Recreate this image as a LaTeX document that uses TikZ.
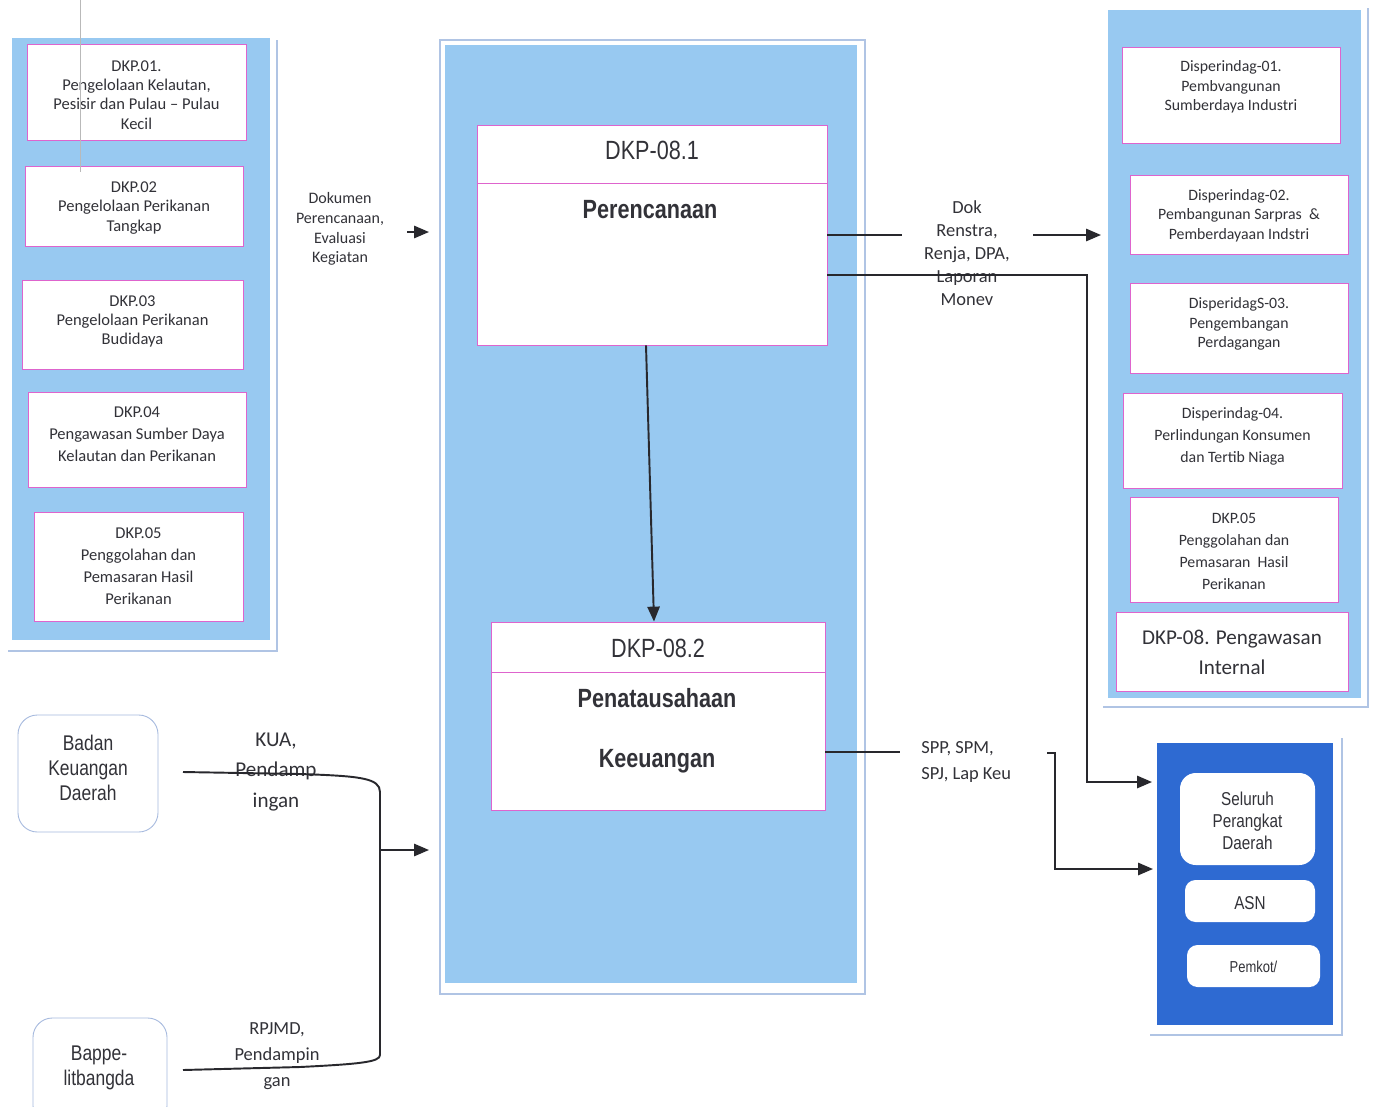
\documentclass[tikz,border=0pt]{standalone}
\usepackage{fontspec}
\setmainfont{Carlito}
\newfontfamily\narrowsans[FakeStretch=0.82]{Liberation Sans}
\usetikzlibrary{arrows.meta,fit,calc}

\definecolor{panelblue}{RGB}{152,201,241}
\definecolor{panelrim}{RGB}{176,196,228}
\definecolor{boxrim}{RGB}{222,100,205}
\definecolor{deepblue}{RGB}{46,106,210}
\definecolor{ink}{RGB}{40,40,45}
\definecolor{textgray}{RGB}{50,50,56}
\definecolor{softrim}{RGB}{165,185,222}

\tikzset{
  panel/.style={fill=panelblue, draw=none, inner sep=0pt},
  rim/.style={draw=panelrim, line width=0.7pt},
  unitbox/.style={draw=boxrim, line width=0.5pt, fill=white, inner sep=0pt},
  divider/.style={draw=boxrim, line width=0.5pt},
  lbl/.style={align=center, text=textgray, inner sep=0pt},
  smalltxt/.style={lbl, font=\fontsize{9.4}{11}\selectfont},
  looser/.style={lbl, font=\fontsize{9.4}{12.5}\selectfont},
  righttxt/.style={lbl, font=\fontsize{9}{11.2}\selectfont},
  rightloose/.style={lbl, font=\fontsize{9}{12.6}\selectfont},
  hdr/.style={lbl, font=\narrowsans\fontsize{15}{18}\selectfont},
  hdrb/.style={lbl, font=\narrowsans\bfseries\fontsize{15}{18}\selectfont},
  roundbox/.style={draw=softrim, line width=0.5pt, fill=white, rounded corners=11pt, inner sep=0pt},
  roundtxt/.style={lbl, font=\narrowsans\fontsize{12.1}{14.2}\selectfont},
  whitebox/.style={draw=none, fill=white, inner sep=0pt},
  whitetxt/.style={lbl, font=\narrowsans\fontsize{10.6}{12.5}\selectfont},
  conn/.style={draw=ink, line width=1.1pt},
  flow/.style={conn, -{Triangle[length=8.5pt,width=7pt]}},
}

\begin{document}
\begin{tikzpicture}[x=0.02cm,y=-0.02cm]
\clip (0,0) rectangle (1373,1106);
\fill[white] (0,0) rectangle (1373,1106);

% ---------- left column: DKP units ----------
\draw[rim] (277,40) -- (277,651) -- (8,651);
\node[panel, fit={(12,38) (270,640)}] (lp) {};
\node[unitbox, fit={(27,44) (246,140)}] (d1) {};
\node[unitbox, fit={(25,166) (243,246)}] (d2) {};
\node[unitbox, fit={(22,280) (243,369)}] (d3) {};
\node[unitbox, fit={(28,392) (246,487)}] (d4) {};
\node[unitbox, fit={(34,512) (243,621)}] (d5) {};
\node[smalltxt] (d1t) at ($(d1.center)+(0,3)$)
  {DKP.01.\\Pengelolaan Kelautan,\\Pesisir dan Pulau -- Pulau\\Kecil};
\node[smalltxt] (d2t) at ($(d2.center)+(0,2)$)
  {DKP.02\\Pengelolaan Perikanan\\Tangkap};
\node[smalltxt] (d3t) at ($(d3.center)+(0,-3)$)
  {DKP.03\\Pengelolaan Perikanan\\Budidaya};
\node[looser] (d4t) at ($(d4.center)+(0,-5)$)
  {DKP.04\\Pengawasan Sumber Daya\\Kelautan dan Perikanan};
\node[looser] (d5t) at ($(d5.center)+(0,0)$)
  {DKP.05\\Penggolahan dan\\Pemasaran Hasil\\Perikanan};

% ---------- centre column: DKP-08 ----------
\draw[rim] (440,40) rectangle (865,994);
\node[panel, fit={(445,45) (857,983)}] (core) {};

\node[unitbox, fit={(477,125) (827,345)}] (p1) {};
\draw[divider] (p1.west |- 0,183) -- (p1.east |- 0,183);
\node[hdr] (p1h) at (652,150) {DKP-08.1};
\node[hdrb] (p1t) at (650,210) {Perencanaan};

\node[unitbox, fit={(491,622) (825,810)}] (p2) {};
\draw[divider] (p2.west |- 0,672) -- (p2.east |- 0,672);
\node[hdr] (p2h) at (658,648) {DKP-08.2};
\node[hdrb] (p2t) at (657,698) {Penatausahaan};
\node[hdrb] (p2u) at (657,761) {Keeuangan};

\draw[flow] ($(p1.south)+(-6,0)$) -- ($(p2.north)+(-4,0)$);

% ---------- right column: Disperindag units ----------
\draw[rim] (1368,8) -- (1368,707) -- (1103,707);
\node[panel, fit={(1108,10) (1361,698)}] (rp) {};
\node[unitbox, fit={(1122,47) (1340,143)}] (r1) {};
\node[unitbox, fit={(1130,175) (1348,254)}] (r2) {};
\node[unitbox, fit={(1130,283) (1348,373)}] (r3) {};
\node[unitbox, fit={(1123,393) (1342,488)}] (r4) {};
\node[unitbox, fit={(1130,497) (1338,602)}] (r5) {};
\node[unitbox, fit={(1116,612) (1348,691)}] (r6) {};
\node[righttxt] (r1t) at ($(r1.center)+(0,-8)$)
  {Disperindag-01.\\Pembvangunan\\Sumberdaya Industri};
\node[righttxt] (r2t) at ($(r2.center)+(0,1)$)
  {Disperindag-02.\\Pembangunan Sarpras~~\&\\Pemberdayaan Indstri};
\node[righttxt] (r3t) at ($(r3.center)+(0,-4)$)
  {DisperidagS-03.\\Pengembangan\\Perdagangan};
\node[rightloose] (r4t) at ($(r4.center)+(0,-4)$)
  {Disperindag-04.\\Perlindungan Konsumen\\dan Tertib Niaga};
\node[rightloose] (r5t) at ($(r5.center)+(0,2)$)
  {DKP.05\\Penggolahan dan\\Pemasaran~ Hasil\\Perikanan};
\node[lbl, font=\fontsize{12}{17}\selectfont] (r6t) at ($(r6.center)+(0,1)$)
  {DKP-08. Pengawasan\\Internal};

% ---------- recipients ----------
\draw[rim] (1342,738) -- (1342,1035) -- (1150,1035);
\node[fill=deepblue, inner sep=0pt, fit={(1157,743) (1333,1025)}] (dk) {};
\node[whitebox, rounded corners=9pt, fit={(1180,773) (1315,865)}] (s1) {};
\node[whitebox, rounded corners=6pt, fit={(1185,880) (1315,922)}] (s2) {};
\node[whitebox, rounded corners=6pt, fit={(1187,945) (1320,987)}] (s3) {};
\node[whitetxt] (s1t) at ($(s1.center)+(0,2)$) {Seluruh\\Perangkat\\Daerah};
\node[whitetxt] (s2t) at ($(s2.center)+(0,2)$) {ASN};
\node[lbl, font=\narrowsans\fontsize{9}{11}\selectfont] (s3t) at ($(s3.center)+(0,1)$) {Pemkot/};

% ---------- external sources ----------
\node[roundbox, fit={(18,715) (158,832)}] (bkd) {};
\node[roundbox, fit={(33,1018) (167,1125)}] (bap) {};
\node[roundtxt] (bkdt) at ($(bkd.center)+(0,-6)$) {Badan\\Keuangan\\Daerah};
\node[roundtxt] (bapt) at (99,1068) {Bappe-\\litbangda};

% ---------- flow labels ----------
\node[lbl, font=\fontsize{9.1}{11.3}\selectfont] (ldok) at (340,229)
  {Dokumen\\Perencanaan,\\Evaluasi\\Kegiatan};
\node[lbl, font=\fontsize{10.5}{13}\selectfont] (lren) at (967,253)
  {Dok\\Renstra,\\Renja, DPA,\\Laporan\\Monev};
\node[lbl, font=\fontsize{10.5}{14.7}\selectfont, align=left, anchor=west] (lspp) at (921,762)
  {SPP, SPM,\\SPJ, Lap Keu};
\node[lbl, font=\fontsize{12}{17.3}\selectfont] (lkua) at (276,772)
  {KUA,\\Pendamp\\ingan};
\node[lbl, font=\fontsize{10.5}{14.7}\selectfont] (lrpj) at (277,1056)
  {RPJMD,\\Pendampin\\gan};

% ---------- connector end points ----------
\coordinate (dokA) at (407,232);
\coordinate (dokB) at (429,232);
\coordinate (renA) at (902,235);
\coordinate (renB) at (1033,235);
\coordinate (renC) at (1101,235);
\coordinate (monA) at (1087,275);
\coordinate (monB) at (1152,782);
\coordinate (sppA) at (900,752);
\coordinate (sppB) at (1047,753);
\coordinate (sppC) at (1055,753);
\coordinate (sppD) at (1153,869);
\coordinate (bkdA) at (183,772);
\coordinate (bapA) at (183,1070);
\coordinate (joinA) at (380,850);
\coordinate (joinB) at (429,850);

% ---------- connectors ----------
\draw[flow] (dokA) -- (dokB);
\draw[conn] (p1.east) -- (renA);
\draw[flow] (renB) -- (renC);
\draw[flow] ($(p1.east)+(0,40)$) -- (monA) |- (monB);
\draw[conn] ($(p2.east)+(0,36)$) -- (sppA);
\draw[flow] (sppB) -- (sppC) |- (sppD);
\draw[conn] (bkdA) -- (300,774) .. controls (360,776) and (380,778) .. (380,792)
  -- (380,1055) .. controls (380,1062) and (360,1064) .. (300,1067) -- (bapA);
\draw[flow] (joinA) -- (joinB);

% faint ruling line at the top left
\draw[draw=gray!55, line width=0.3pt] (80,0) -- (80,172);
\end{tikzpicture}
\end{document}
